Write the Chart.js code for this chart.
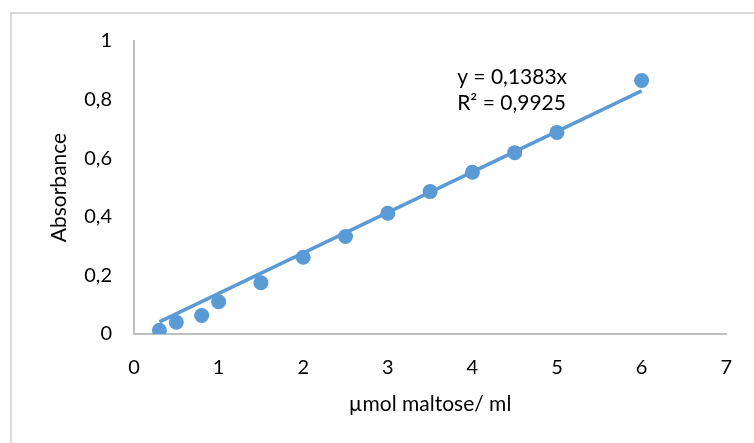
<!DOCTYPE html>
<html lang="en">
<head>
    <meta charset="UTF-8">
    <title>Absorbance vs maltose</title>
    <script src="https://cdn.jsdelivr.net/npm/chart.js"></script>
    <style>
        body {
            margin: 0;
            padding: 0;
            background: #ffffff;
            overflow: hidden;
        }
        #chart-container {
            width: 754px;
            height: 443px;
        }
    </style>
</head>
<body>
    <div id="chart-container">
        <canvas id="myChart"></canvas>
    </div>
    <script>
        // maltose concentration (µmol/ml) and measured absorbance
        const maltose = [0.3, 0.5, 0.8, 1, 1.5, 2, 2.5, 3, 3.5, 4, 4.5, 5, 6];
        const absorbance = [0.013, 0.04, 0.063, 0.11, 0.175, 0.262, 0.333, 0.412, 0.486, 0.552, 0.619, 0.688, 0.865];

        // linear trendline through origin
        const slope = 0.1383;
        const trendX = [0.3, 6];
        const trendLabel = ['y = 0,1383x', 'R² = 0,9925'];

        const blue = '#5b9bd5';
        const axisGrey = '#bfbfbf';
        const fontFamily = 'Lato, "Open Sans", sans-serif';

        // frame around the chart, like the spreadsheet chart box
        const framePlugin = {
            id: 'frame',
            beforeDraw(chart) {
                const c = chart.ctx;
                c.save();
                c.strokeStyle = '#d9d9d9';
                c.lineWidth = 2;
                c.strokeRect(11, 13, 800, 500);
                c.restore();
            }
        };

        // equation text next to the trendline
        const equationPlugin = {
            id: 'equation',
            afterDatasetsDraw(chart) {
                const c = chart.ctx;
                const xs = chart.scales.x;
                const ys = chart.scales.y;
                c.save();
                c.fillStyle = '#000000';
                c.font = '21px ' + fontFamily;
                c.textBaseline = 'middle';
                c.fillText(trendLabel[0], xs.getPixelForValue(3.82), ys.getPixelForValue(0.877));
                c.fillText(trendLabel[1], xs.getPixelForValue(3.82), ys.getPixelForValue(0.788));
                c.restore();
            }
        };

        const ctx = document.getElementById('myChart').getContext('2d');
        const myChart = new Chart(ctx, {
            type: 'scatter',
            data: {
                datasets: [
                    {
                        label: 'Trend',
                        type: 'line',
                        data: trendX.map(x => ({ x: x, y: slope * x })),
                        borderColor: blue,
                        borderWidth: 3.5,
                        pointRadius: 0,
                        fill: false,
                        order: 2
                    },
                    {
                        label: 'Absorbance',
                        data: maltose.map((x, i) => ({ x: x, y: absorbance[i] })),
                        backgroundColor: blue,
                        borderColor: blue,
                        pointRadius: 7.5,
                        pointBorderWidth: 0,
                        order: 1
                    }
                ]
            },
            options: {
                responsive: true,
                maintainAspectRatio: false,
                animation: false,
                layout: {
                    padding: { left: 0, top: 41, right: 23, bottom: 0 }
                },
                scales: {
                    x: {
                        type: 'linear',
                        min: 0,
                        max: 7,
                        grid: { display: false, drawTicks: false },
                        border: { display: true, color: axisGrey, width: 2 },
                        ticks: {
                            stepSize: 1,
                            padding: 22,
                            color: '#000000',
                            font: { family: fontFamily, size: 20 }
                        },
                        title: {
                            display: true,
                            text: 'µmol maltose/ ml',
                            color: '#000000',
                            font: { family: fontFamily, size: 21 },
                            padding: { top: 0, bottom: 26 }
                        },
                        afterFit(scale) { scale.height = 109; }
                    },
                    y: {
                        min: 0,
                        max: 1,
                        grid: { display: false, drawTicks: false },
                        border: { display: true, color: axisGrey, width: 2 },
                        ticks: {
                            stepSize: 0.2,
                            padding: 22,
                            color: '#000000',
                            font: { family: fontFamily, size: 20 },
                            callback: v => String(Math.round(v * 10) / 10).replace('.', ',')
                        },
                        title: {
                            display: true,
                            text: 'Absorbance',
                            color: '#000000',
                            font: { family: fontFamily, size: 21 },
                            padding: { top: 47, bottom: 0 }
                        },
                        afterFit(scale) { scale.width = 134; }
                    }
                },
                plugins: {
                    legend: { display: false },
                    tooltip: { enabled: false }
                }
            },
            plugins: [framePlugin, equationPlugin]
        });
    </script>
</body>
</html>
